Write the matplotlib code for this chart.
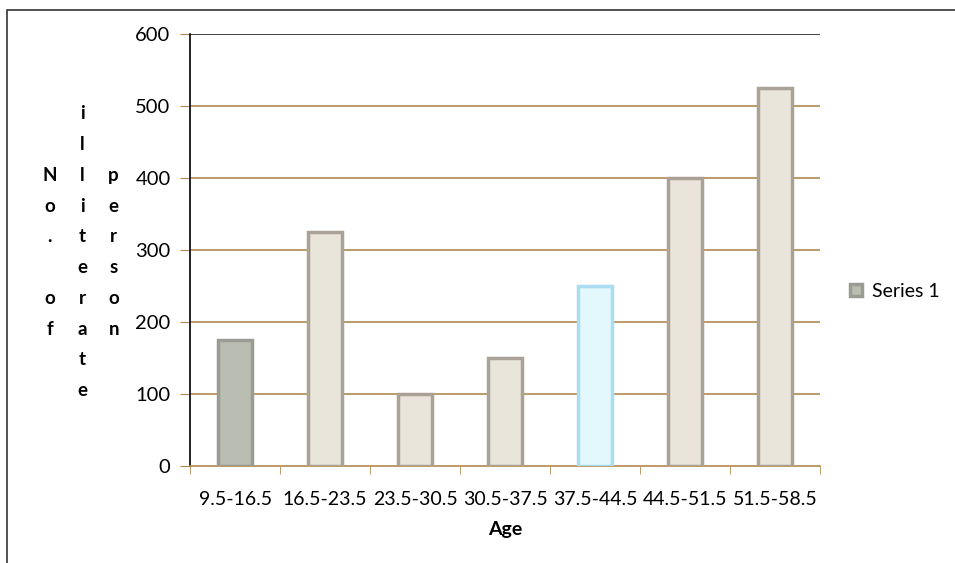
"""Illiterate persons by age group - bar chart."""

import matplotlib
matplotlib.use('Agg')
import matplotlib.pyplot as plt
from matplotlib.patches import Rectangle
import numpy as np

# data
age_groups = ['9.5-16.5', '16.5-23.5', '23.5-30.5', '30.5-37.5',
              '37.5-44.5', '44.5-51.5', '51.5-58.5']
persons = [175, 325, 100, 150, 250, 400, 525]
yticks = [0, 100, 200, 300, 400, 500, 600]

# styles
face = ['#b9bdb2', '#e9e5da', '#e9e5da', '#e9e5da', '#e2f8fd', '#e9e5da', '#e9e5da']
edge = ['#9a9c94', '#aaa197', '#aaa197', '#aaa197', '#aadcf2', '#aaa197', '#aaa197']
grid_col = '#b38a4e'

plt.rcParams['font.family'] = ['Lato', 'DejaVu Sans']

fig = plt.figure(figsize=(9.55, 5.63), dpi=100)
ax = fig.add_axes([0.199, 0.172, 0.66, 0.768])

x = np.arange(len(age_groups))
bars = ax.bar(x, persons, width=0.38, color=face, edgecolor=edge,
              linewidth=2.5, zorder=3, label='Series 1')

ax.set_xlim(-0.5, len(age_groups) - 0.5)
ax.set_ylim(0, 600)
ax.set_yticks(yticks)
ax.set_yticklabels([str(v) for v in yticks], fontsize=14.5)
ax.set_xticks(x)
ax.set_xticklabels(age_groups, fontsize=14)
ax.set_xticks(np.arange(-0.5, len(age_groups)), minor=True)
ax.tick_params(axis='x', which='major', length=0, pad=18)
ax.tick_params(axis='x', which='minor', length=6, color=grid_col, direction='out')
ax.tick_params(axis='y', length=7, color=grid_col, pad=7)

for v in yticks[1:]:
    c = '#222222' if v == 600 else grid_col
    ax.axhline(v, color=c, lw=1.2, zorder=1)

for s in ['top', 'right']:
    ax.spines[s].set_visible(False)
ax.spines['left'].set_color('black')
ax.spines['left'].set_linewidth(1.2)
ax.spines['bottom'].set_color(grid_col)
ax.spines['bottom'].set_linewidth(1.2)

ax.set_xlabel('Age', fontsize=14, fontweight='bold', labelpad=9)

# stacked vertical y label
cols = [(0.052, 'N\no\n.\n\no\nf'),
        (0.086, 'i\nl\nl\ni\nt\ne\nr\na\nt\ne'),
        (0.119, 'p\ne\nr\ns\no\nn')]
for xpos, txt in cols:
    fig.text(xpos, 0.552, txt, ha='center', va='center', ma='center',
             fontsize=13.5, fontweight='bold', linespacing=1.98)

ax.legend(loc='center left', bbox_to_anchor=(1.02, 0.405), frameon=False,
          fontsize=14, handlelength=0.6, handleheight=0.6, handletextpad=0.5)

# outer chart frame
fig.patches.append(Rectangle((7 / 955, -0.1), 1.2, 1.1 - 10 / 563,
                             transform=fig.transFigure, fill=False,
                             edgecolor='#333333', lw=1.2))

plt.savefig('out.png', dpi=100)
